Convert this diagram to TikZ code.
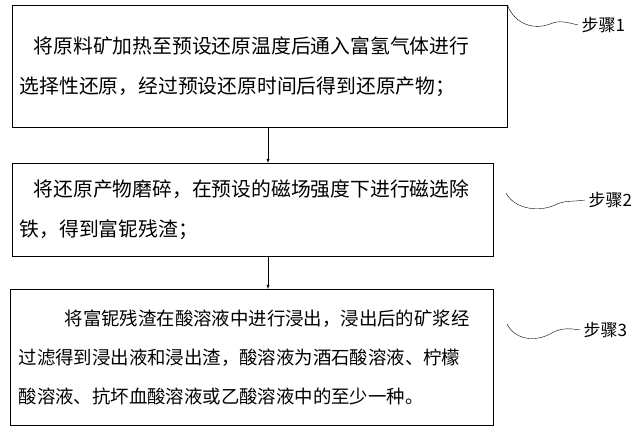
\documentclass[tikz,border=0pt]{standalone}
\usepackage{fontspec}
\setmainfont{Liberation Serif}
\newfontfamily\cjk{Noto Sans CJK SC}
\usetikzlibrary{calc}
\tikzset{>=latex,
  stepbox/.style={draw,thin,anchor=north west,align=left,inner sep=0pt},
  steplabel/.style={font=\cjk\fontsize{17}{20}\selectfont},
  tilde/.style={thin}}
\begin{document}
\begin{tikzpicture}[x=1pt,y=-1pt]
\useasboundingbox (0,0) rectangle (640,435);

\node [stepbox,minimum width=495pt,minimum height=122pt,text width=480pt,
  font=\cjk\fontsize{19.8}{40}\selectfont] (s1) at (12,5)
  {\hspace*{14pt}将原料矿加热至预设还原温度后通入富氢气体进行\\选择性还原，经过预设还原时间后得到还原产物；};
\node [stepbox,minimum width=481pt,minimum height=93pt,text width=466pt,
  font=\cjk\fontsize{19.8}{40}\selectfont] (s2) at (12,163)
  {\hspace*{14pt}将还原产物磨碎，在预设的磁场强度下进行磁选除\\铁，得到富铌残渣；};
\node [stepbox,minimum width=483pt,minimum height=136pt,text width=466pt,
  font=\cjk\fontsize{18.4}{39}\selectfont] (s3) at (10,289)
  {\hspace*{46pt}将富铌残渣在酸溶液中进行浸出，浸出后的矿浆经\\过滤得到浸出液和浸出渣，酸溶液为酒石酸溶液、柠檬\\酸溶液、抗坏血酸溶液或乙酸溶液中的至少一种。};

\coordinate (ax) at (268,0);
\draw [->] (s1.south -| ax) -- (s2.north -| ax);
\draw [->] (s2.south -| ax) -- (s3.north -| ax);

\node [steplabel,anchor=west] (l1) at (578,25) {步骤1};
\node [steplabel,anchor=west] (l2) at (585,200) {步骤2};
\node [steplabel,anchor=west] (l3) at (580,330) {步骤3};

\draw [tilde] (s1.north east) .. controls (515,25) and (535,30) .. (550,24)
  .. controls (560,20) and (565,22) .. (l1.west);
\draw [tilde] (506,193) .. controls (515,210) and (540,212) .. (555,205)
  .. controls (565,200) and (572,202) .. (l2.west);
\draw [tilde] (507,324) .. controls (515,340) and (535,342) .. (550,334)
  .. controls (560,328) and (568,328) .. (l3.west);
\end{tikzpicture}
\end{document}
